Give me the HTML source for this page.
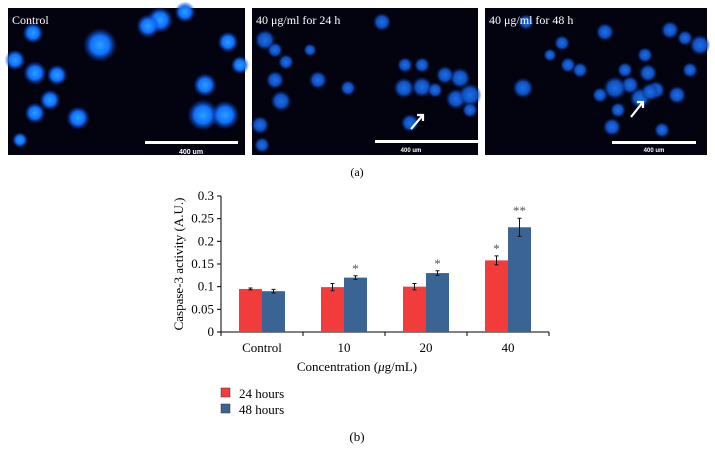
<!DOCTYPE html>
<html><head><meta charset="utf-8"><style>
html,body{margin:0;padding:0;background:#fff;}
svg{display:block;font-family:"Liberation Serif",serif;}
</style></head><body>
<svg width="715" height="463" viewBox="0 0 715 463">
<defs>
<radialGradient id="cell"><stop offset="0" stop-color="#2aa0ff"/><stop offset="0.55" stop-color="#1070ff"/><stop offset="1" stop-color="#0a3cc0" stop-opacity="0"/></radialGradient>
<radialGradient id="cellDim"><stop offset="0" stop-color="#1a70e8"/><stop offset="0.6" stop-color="#1050c0"/><stop offset="1" stop-color="#082a80" stop-opacity="0"/></radialGradient>
</defs>
<g>
<rect x="8" y="8" width="237" height="147" fill="#02030f"/>
<g id="c1"></g>
<text x="12" y="24" fill="#fff" font-size="12">Control</text>
<rect x="145" y="141" width="93" height="3" fill="#fff"/>
<text x="191" y="154" fill="#fff" font-size="7" font-family="Liberation Sans,sans-serif" font-weight="bold" text-anchor="middle">400 um</text>
</g>
<g>
<rect x="252" y="8" width="226" height="147" fill="#02030f"/>
<g id="c2"></g>
<text x="256" y="24" fill="#fff" font-size="12">40 μg/ml  for 24 h</text>
<rect x="375" y="140" width="103" height="3" fill="#fff"/>
<text x="411" y="152" fill="#fff" font-size="6" font-family="Liberation Sans,sans-serif" font-weight="bold" text-anchor="middle">400 um</text>
<path d="M411 129 L423 115 M417 115 L423 115 L423 121" stroke="#fff" stroke-width="2.2" fill="none"/>
</g>
<g>
<rect x="485" y="8" width="222" height="147" fill="#02030f"/>
<g id="c3"></g>
<text x="489" y="24" fill="#fff" font-size="12">40 μg/ml  for 48 h</text>
<rect x="612" y="141" width="84" height="3" fill="#fff"/>
<text x="654" y="152" fill="#fff" font-size="6" font-family="Liberation Sans,sans-serif" font-weight="bold" text-anchor="middle">400 um</text>
<path d="M631 117 L643 102 M637 102 L643 102 L643 108" stroke="#fff" stroke-width="2.2" fill="none"/>
</g>
<text x="357" y="176" font-size="12" text-anchor="middle">(a)</text>
<g id="chart"></g>
<text x="357" y="441" font-size="13" text-anchor="middle">(b)</text>
</svg>
<script>
const categories=["Control","10","20","40"];
const series24=[0.095,0.099,0.100,0.158];
const series48=[0.090,0.120,0.130,0.231];
const err24=[0.002,0.008,0.007,0.010];
const err48=[0.004,0.004,0.005,0.020];
const sig24=["","","","*"];
const sig48=["","*","*","**"];
const yTicks=[0,0.05,0.1,0.15,0.2,0.25,0.3];
const yTickLabels=["0","0.05","0.1","0.15","0.2","0.25","0.3"];
const cells1=[[33,33,8],[100,45,13],[160,20,10],[148,26,9],[185,12,8],[228,42,8],[15,60,8],[35,73,9],[57,75,8],[50,100,8],[35,113,8],[78,118,9],[240,65,7],[205,85,9],[203,115,12],[225,115,11],[20,140,6]];
const cells2=[[265,40,8],[275,50,6],[286,62,6],[275,80,7],[318,80,7],[281,101,8],[348,88,6],[382,22,7],[404,88,8],[422,87,8],[460,78,8],[456,99,8],[470,95,9],[410,123,7],[260,125,7],[470,110,6],[435,90,6],[445,75,7],[405,65,6],[422,65,6],[310,50,5],[262,145,6]];
const cells3=[[526,22,6],[523,88,8],[562,43,6],[568,65,6],[605,32,7],[640,98,8],[648,73,7],[656,90,7],[670,30,7],[685,38,6],[700,45,8],[662,130,6],[650,92,7],[630,85,7],[677,95,7],[615,88,9],[612,127,7],[600,95,6],[625,70,6],[645,55,6],[580,70,6],[550,55,5],[618,110,6],[690,70,6]];
const NS="http://www.w3.org/2000/svg";
function mk(t,a,p){const e=document.createElementNS(NS,t);for(const k in a)e.setAttribute(k,a[k]);p.appendChild(e);return e;}
[[cells1,'c1',1],[cells2,'c2',0],[cells3,'c3',0]].forEach(([arr,id,b])=>{
 const g=document.getElementById(id);
 arr.forEach(c=>{const e=mk('circle',{cx:c[0],cy:c[1],r:c[2]*1.3,fill:b?'url(#cell)':'url(#cellDim)'},g);
 
 });
});
const chart=document.getElementById('chart');
const x0=221,yBase=332,yTop=196,ymax=0.3,gw=82;
const y=v=>yBase-(v/ymax)*(yBase-yTop);
const cx=i=>x0+gw*i+gw/2;
const ax=mk('line',{x1:x0,y1:yTop,x2:x0,y2:yBase,stroke:'#000','stroke-width':1},chart);


const xa=mk('line',{x1:x0,y1:yBase,x2:x0+gw*categories.length,y2:yBase,stroke:'#000','stroke-width':1},chart);


yTicks.forEach((t,i)=>{
 mk('line',{x1:x0-4,y1:y(t),x2:x0,y2:y(t),stroke:'#000'},chart);
 const tx=mk('text',{x:x0-7,y:y(t)+4,'font-size':13,'text-anchor':'end'},chart);
 tx.textContent=yTickLabels[i];
 
 
});
for(let i=0;i<=categories.length;i++)mk('line',{x1:x0+gw*i,y1:yBase,x2:x0+gw*i,y2:yBase+4,stroke:'#000'},chart);
const bw=23;
categories.forEach((c,i)=>{
 const t=mk('text',{x:cx(i),y:yBase+20,'font-size':13,'text-anchor':'middle'},chart);
 t.textContent=c;
 
 
 [[series24,err24,sig24,'#f23c3c',-bw],[series48,err48,sig48,'#3a6494',0]].forEach(([s,e,sg,col,off])=>{
  const bx=cx(i)+off;
  const r=mk('rect',{x:bx,y:y(s[i]),width:bw,height:yBase-y(s[i]),fill:col},chart);
  
  
  const m=bx+bw/2,t1=y(s[i]+e[i]),t2=y(s[i]-e[i]);
  mk('path',{d:`M${m} ${t1}V${t2}M${m-2} ${t1}H${m+2}M${m-2} ${t2}H${m+2}`,stroke:'#111','stroke-width':1,fill:'none'},chart);
  if(sg[i]){const st=mk('text',{x:m,y:t1-3,'font-size':13,'text-anchor':'middle',fill:'#555'},chart);st.textContent=sg[i];
  
  }
 });
});
const yt=mk('text',{x:0,y:0,'font-size':13,'text-anchor':'middle',transform:`translate(183,${(yTop+yBase)/2}) rotate(-90)`},chart);
yt.textContent='Caspase-3 activity (A.U.)';


const xt=mk('text',{x:357,y:371,'font-size':13,'text-anchor':'middle'},chart);
xt.innerHTML='Concentration (<tspan font-style="italic">μ</tspan>g/mL)';


[['24 hours','#f23c3c',398],['48 hours','#3a6494',414]].forEach(([l,c,yy])=>{
 const r=mk('rect',{x:221,y:yy-10,width:9,height:9,fill:c,stroke:'#333','stroke-width':0.5},chart);
 
 
 const t=mk('text',{x:239,y:yy,'font-size':13},chart);t.textContent=l;
 
 
});
</script>
</body></html>
